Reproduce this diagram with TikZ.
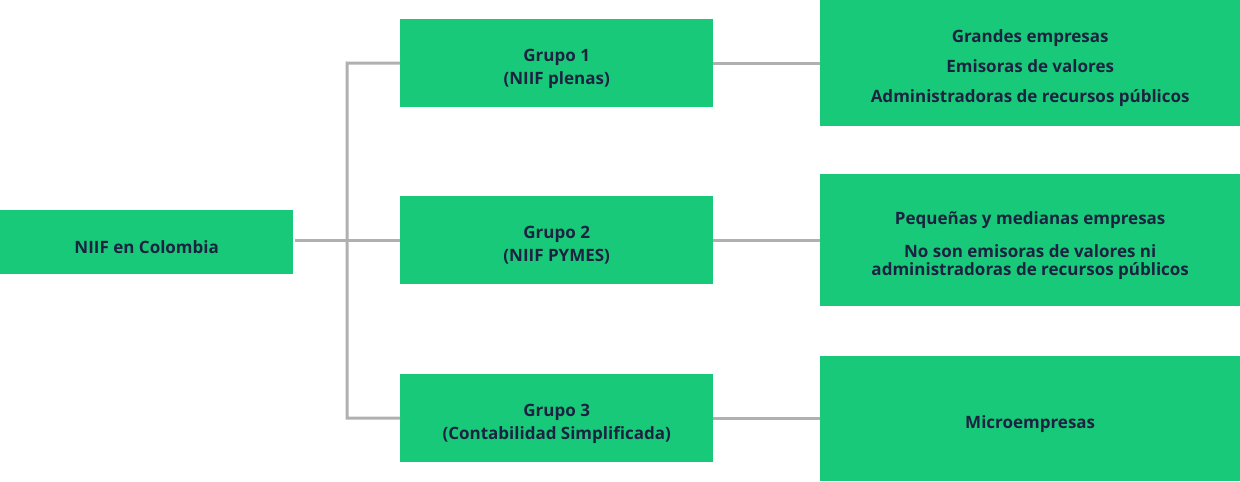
\documentclass[tikz,border=0pt]{standalone}
\usepackage{fontspec}
\setmainfont{Open Sans}
\definecolor{boxgreen}{HTML}{19C97A}
\definecolor{txt}{HTML}{1B2340}
\definecolor{ln}{HTML}{B0B0B0}
\newcommand\tup{\rule{0pt}{23pt}}
\begin{document}
\begin{tikzpicture}[x=1pt,y=-1pt,
  box/.style={fill=boxgreen, draw=none, inner sep=0pt, text=txt, align=center, anchor=north west},
  grp/.style={box, minimum width=313pt, minimum height=88pt, font=\bfseries\fontsize{17}{23}\selectfont},
  res/.style={box, minimum width=420pt, font=\bfseries\fontsize{17}{18}\selectfont},
  link/.style={draw=ln, line width=3pt}]
\useasboundingbox (0,0) rectangle (1240,482);
\node[box, minimum width=293pt, minimum height=64pt, font=\bfseries\fontsize{17}{20}\selectfont] (root) at (0,210) {\tup NIIF en Colombia};
\node[grp] (g1) at (400,19) {\tup Grupo 1\\(NIIF plenas)};
\node[grp] (g2) at (400,196) {\tup Grupo 2\\(NIIF PYMES)};
\node[grp] (g3) at (400,374) {\tup Grupo 3\\(Contabilidad Simplificada)};
\node[res, minimum height=126pt] (r1) at (820,0) {\tup Grandes empresas\\[12pt]Emisoras de valores\\[12pt]Administradoras de recursos públicos};
\node[res, minimum height=132pt] (r2) at (820,174) {\tup Pequeñas y medianas empresas\\[15pt]No son emisoras de valores ni\\administradoras de recursos públicos};
\node[res, minimum height=125pt] (r3) at (820,356) {\tup Microempresas};
\coordinate (b1) at (347,63);
\coordinate (b3) at (347,418);
\draw[link] ([xshift=2pt]root.east |- g2.west) -- (g2.west);
\draw[link] (g1.west) -- (b1) -- (b3) -- (g3.west);
\draw[link] (g1.east) -- (r1.west);
\draw[link] (g2.east) -- (r2.west);
\draw[link] (g3.east) -- (r3.west |- g3.east);
\end{tikzpicture}
\end{document}
